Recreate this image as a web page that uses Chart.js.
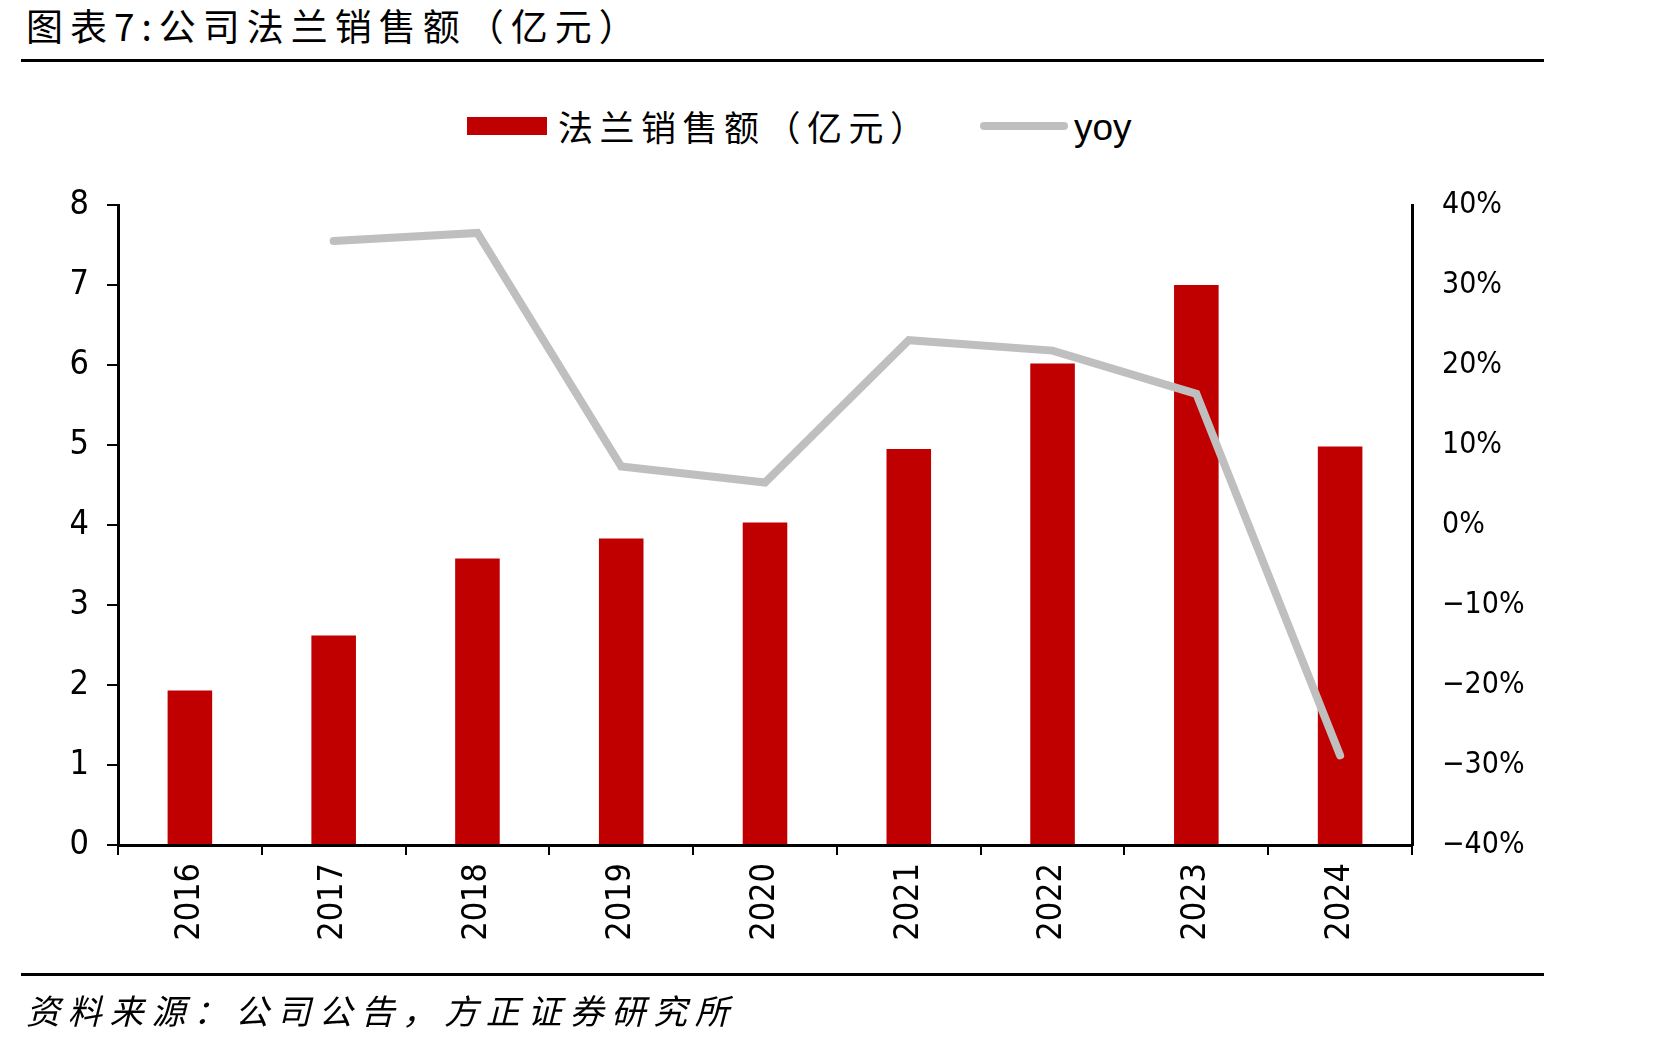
<!DOCTYPE html>
<html>
<head>
<meta charset="utf-8">
<script src="https://cdn.jsdelivr.net/npm/chart.js@4.4.1/dist/chart.umd.min.js"></script>
<style>
  html,body{margin:0;padding:0;background:#fff;}
  body{width:1671px;height:1045px;position:relative;overflow:hidden;font-family:"Noto Sans CJK SC","Noto Sans",sans-serif;color:#000;}
  #title{position:absolute;left:26px;top:1px;font-size:37px;letter-spacing:7px;line-height:48px;white-space:nowrap;}
  #rule1{position:absolute;left:21px;width:1523px;top:59px;height:3px;background:#000;}
  #rule2{position:absolute;left:21px;width:1523px;top:973px;height:3px;background:#000;}
  #foot{position:absolute;left:26px;top:986px;font-size:34px;letter-spacing:7.8px;font-style:italic;line-height:48px;white-space:nowrap;}
  .lbox{position:absolute;left:467px;top:117px;width:80px;height:18px;background:#C00000;}
  .lline{position:absolute;left:980px;top:122px;width:88px;height:8px;border-radius:4px;background:#BFBFBF;}
  .ltxt{position:absolute;top:104px;line-height:44px;font-size:35px;letter-spacing:6.5px;white-space:nowrap;}
  canvas{position:absolute;left:0;top:0;}
</style>
</head>
<body>
<div id="title">图表7:公司法兰销售额（亿元）</div>
<div id="rule1"></div>
<div id="legend">
  <span class="lbox"></span><span class="ltxt" style="left:558px;">法兰销售额（亿元）</span>
  <span class="lline"></span><span class="ltxt" style="left:1074px;top:106px;font-family:'Liberation Sans',Arial,sans-serif;letter-spacing:0;font-size:37px;">yoy</span>
</div>
<canvas id="c" width="1671" height="1045"></canvas>
<div id="rule2"></div>
<div id="foot">资料来源：公司公告，方正证券研究所</div>
<script>
const categories = ["2016","2017","2018","2019","2020","2021","2022","2023","2024"];
const salesValues = [1.93, 2.62, 3.58, 3.83, 4.03, 4.95, 6.02, 7.00, 4.98];
const yoyValues = [null, 35.5, 36.5, 7.3, 5.3, 23.1, 21.8, 16.4, -28.8];
const leftTicks = [0,1,2,3,4,5,6,7,8];
const rightTicks = [-40,-30,-20,-10,0,10,20,30,40];

const fam = "'Liberation Sans Narrow', 'DejaVu Sans Condensed', 'Liberation Sans', sans-serif";
const tickFont = {family:fam, size:34};
const rightFont = {family:fam, size:30};

new Chart(document.getElementById('c'), {
  data: {
    labels: categories,
    datasets: [
      {type:'line', label:'yoy', data: yoyValues, yAxisID:'y1', borderColor:'#BFBFBF', backgroundColor:'#BFBFBF',
       borderWidth:8, pointRadius:0, pointHoverRadius:0, tension:0, spanGaps:false, order:0,
       borderJoinStyle:'miter', borderCapStyle:'round'},
      {type:'bar', label:'法兰销售额（亿元）', data: salesValues, yAxisID:'y', backgroundColor:'#C00000',
       barPercentage:0.31, categoryPercentage:1.0, order:1}
    ]
  },
  options: {
    responsive:false,
    animation:false,
    events:[],
    layout:{padding:{top:205, left:0, right:0, bottom:70}},
    plugins:{legend:{display:false}, title:{display:false}, tooltip:{enabled:false}},
    scales:{
      x:{
        position:'bottom',
        grid:{offset:true, drawOnChartArea:false, drawTicks:true, tickLength:10, color:'#000', lineWidth:2},
        border:{display:true, color:'#000', width:3},
        ticks:{color:'#000', font:tickFont, minRotation:90, maxRotation:90, padding:8, autoSkip:false},
        afterFit:(s)=>{s.height=130;}
      },
      y:{
        position:'left', min:0, max:8,
        afterBuildTicks:(s)=>{s.ticks = leftTicks.map(v=>({value:v}));},
        grid:{drawOnChartArea:false, drawTicks:true, tickLength:11, color:'#000', lineWidth:2},
        border:{display:true, color:'#000', width:3},
        ticks:{color:'#000', font:tickFont, padding:18},
        afterFit:(s)=>{s.width=118;}
      },
      y1:{
        position:'right', min:-40, max:40,
        afterBuildTicks:(s)=>{s.ticks = rightTicks.map(v=>({value:v}));},
        grid:{drawOnChartArea:false, drawTicks:false},
        border:{display:true, color:'#000', width:3},
        ticks:{color:'#000', font:rightFont, padding:30,
          callback:(v)=> (v<0 ? '\u2212' + Math.abs(v) : String(v)) + '%'},
        afterFit:(s)=>{s.width=259;}
      }
    }
  }
});
</script>
</body>
</html>
